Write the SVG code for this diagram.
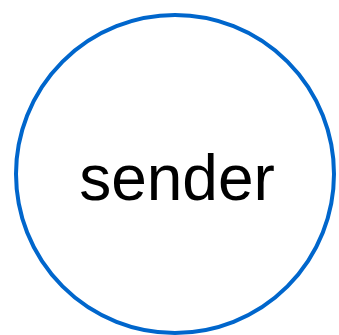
<svg xmlns="http://www.w3.org/2000/svg" width="339" height="335" viewBox="0 0 339 335">
<style>
.node-shape{fill:#ffffff;stroke:#0066cc;stroke-width:4}
.label{font-family:"Liberation Sans",Arial,sans-serif;font-size:64px;fill:#000000;text-anchor:middle}
</style>
<rect width="339" height="335" fill="#ffffff"/>
<g id="connectors"></g>
<g id="sender">
<circle class="node-shape" cx="175" cy="174" r="159"/>
<text class="label" x="177" y="200">sender</text>
</g>
</svg>
